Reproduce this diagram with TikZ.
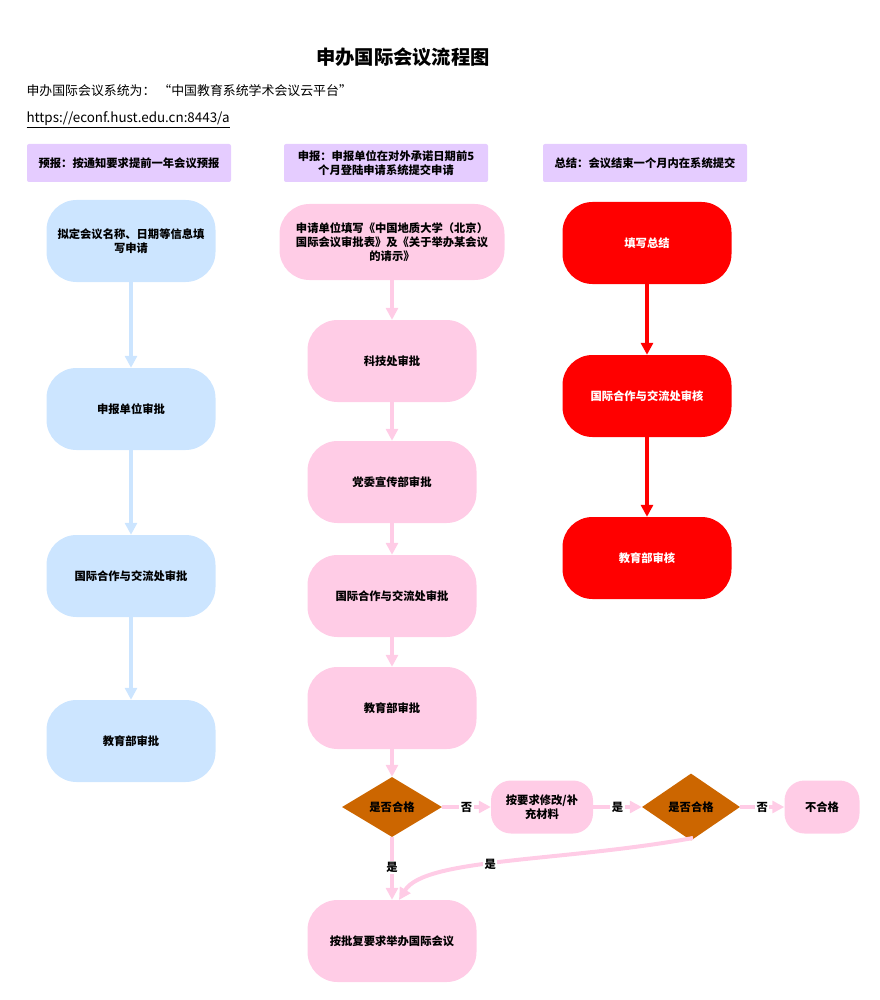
\documentclass[tikz,border=0pt]{standalone}
\usepackage{fontspec}
\setmainfont{Noto Sans CJK SC}
\usetikzlibrary{arrows.meta,shapes.geometric}
\definecolor{lblue}{HTML}{CCE5FF}
\definecolor{lpink}{HTML}{FFCCE6}
\definecolor{lpurp}{HTML}{E5CCFF}
\definecolor{dorange}{HTML}{CC6600}
\definecolor{bred}{HTML}{FF0000}
\tikzset{
  hdr/.style={fill=lpurp, rounded corners=2pt, minimum width=204pt, minimum height=38pt, align=center, font=\fontsize{11.3}{13.5}\selectfont\bfseries},
  pill/.style={rounded corners=30pt, minimum width=169pt, minimum height=82pt, align=center, font=\fontsize{11.3}{14}\selectfont\bfseries, inner sep=2pt},
  bluebox/.style={pill, fill=lblue},
  pinkbox/.style={pill, fill=lpink},
  redbox/.style={pill, fill=bred, text=white},
  dia/.style={diamond, fill=dorange, aspect=1.6, inner sep=0pt, font=\fontsize{11.3}{13}\selectfont\bfseries},
  bluearr/.style={draw=lblue, line width=4pt, -{Triangle[width=12pt,length=12pt]}},
  pinkarr/.style={draw=lpink, line width=4pt, -{Triangle[width=12pt,length=12pt]}},
  redarr/.style={draw=bred, line width=4pt, -{Triangle[width=12pt,length=12pt]}},
  lbl/.style={fill=white, inner sep=1.5pt, font=\fontsize{11.3}{13}\selectfont\bfseries},
}
\begin{document}
\begin{tikzpicture}[x=1pt,y=-1pt]
\useasboundingbox (0,0) rectangle (879,1000);
% title and intro
\node[font=\fontsize{19.3}{21}\selectfont\bfseries] (title) at (403,57) {申办国际会议流程图};
\node[anchor=west, font=\fontsize{12.9}{15}\selectfont] (intro) at (23,91) {申办国际会议系统为：\ “中国教育系统学术会议云平台”};
\node[anchor=west, font=\fontsize{13.4}{15}\selectfont] (url) at (23,120) {\underline{https://econf.hust.edu.cn:8443/a}};
% headers
\node[hdr] (h1) at (129,163) {预报：按通知要求提前一年会议预报};
\node[hdr] (h2) at (386,163) {申报：申报单位在对外承诺日期前5\\个月登陆申请系统提交申请};
\node[hdr] (h3) at (645,163) {总结：会议结束一个月内在系统提交};
% left column
\node[bluebox] (l1) at (131,241) {拟定会议名称、日期等信息填\\写申请};
\node[bluebox] (l2) at (131,409) {申报单位审批};
\node[bluebox] (l3) at (131,576) {国际合作与交流处审批};
\node[bluebox] (l4) at (131,741) {教育部审批};
\draw[bluearr] (l1) -- (l2);
\draw[bluearr] (l2) -- (l3);
\draw[bluearr] (l3) -- (l4);
% middle column
\node[pinkbox, minimum width=225pt, minimum height=76pt] (m1) at (392,242) {申请单位填写《中国地质大学（北京）\\国际会议审批表》及《关于举办某会议\\的请示》};
\node[pinkbox] (m2) at (392,361) {科技处审批};
\node[pinkbox] (m3) at (392,482) {党委宣传部审批};
\node[pinkbox] (m4) at (392,596) {国际合作与交流处审批};
\node[pinkbox] (m5) at (392,708) {教育部审批};
\node[dia, minimum width=100pt, minimum height=60pt] (d1) at (392,807) {是否合格};
\node[pinkbox, minimum width=102pt, minimum height=53pt, rounded corners=20pt] (fix) at (542,807) {按要求修改/补\\充材料};
\node[dia, minimum width=98pt, minimum height=67pt] (d2) at (691,807) {是否合格};
\node[pinkbox, minimum width=75pt, minimum height=53pt, rounded corners=20pt] (no) at (822,807) {不合格};
\node[pinkbox] (fin) at (392,941) {按批复要求举办国际会议};
\draw[pinkarr] (m1) -- (m2);
\draw[pinkarr] (m2) -- (m3);
\draw[pinkarr] (m3) -- (m4);
\draw[pinkarr] (m4) -- (m5);
\draw[pinkarr] (m5) -- (d1);
\draw[pinkarr] (d1) -- node[lbl] {否} (fix);
\draw[pinkarr] (fix) -- node[lbl] {是} (d2);
\draw[pinkarr] (d2) -- node[lbl] {否} (no);
\draw[pinkarr] (d1) -- node[lbl, pos=0.48] {是} (fin);
\coordinate (d2b) at (693,838);
\coordinate (finin) at (399,900);
\draw[pinkarr] (d2b) .. controls (560,862) and (425,858) .. node[lbl, pos=0.55] {是} (finin);
% right column
\node[redbox] (r1) at (647,243) {填写总结};
\node[redbox] (r2) at (647,396) {国际合作与交流处审核};
\node[redbox] (r3) at (647,558) {教育部审核};
\draw[redarr] (r1) -- (r2);
\draw[redarr] (r2) -- (r3);
\end{tikzpicture}
\end{document}
